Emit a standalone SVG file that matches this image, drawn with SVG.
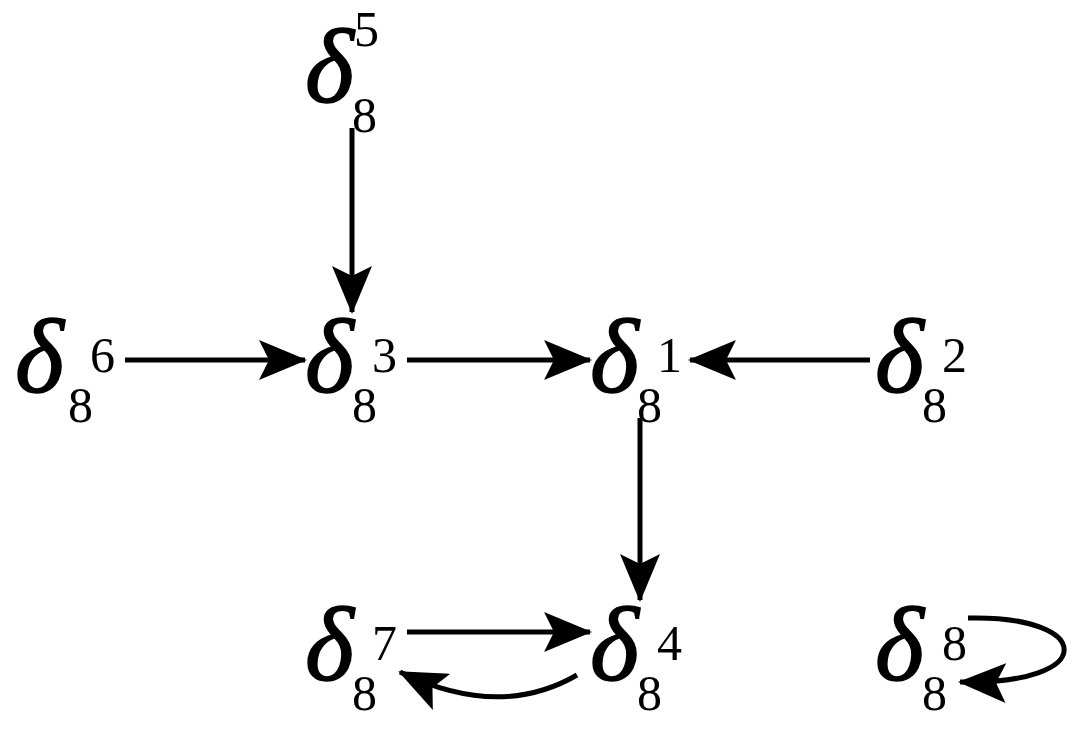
<svg xmlns="http://www.w3.org/2000/svg" width="1089" height="729" viewBox="0 0 1089 729">
<style>
.d{font-family:"Liberation Serif",serif;font-style:italic;font-size:105px;fill:#000;stroke:#000;stroke-width:1.5}
.s{font-family:"Liberation Serif",serif;font-size:50px;fill:#000}
.e{stroke:#000;stroke-width:5;fill:none}
</style>
<defs>
<marker id="h" viewBox="0 0 48 40" refX="46" refY="20" markerWidth="48" markerHeight="40" orient="auto" markerUnits="userSpaceOnUse">
<path d="M0,0 L48,20 L0,40 L10,20 Z" fill="#000"/>
</marker>
</defs>
<rect width="1089" height="729" fill="#fff"/>
<g id="n5"><text class="d" x="305" y="102">δ</text><text class="s" x="354" y="46">5</text><text class="s" x="352" y="132">8</text></g>
<g id="n6"><text class="d" x="15" y="392">δ</text><text class="s" x="90" y="372">6</text><text class="s" x="68" y="422">8</text></g>
<g id="n3"><text class="d" x="305" y="392">δ</text><text class="s" x="372" y="372">3</text><text class="s" x="352" y="422">8</text></g>
<g id="n1"><text class="d" x="590" y="392">δ</text><text class="s" x="657" y="372">1</text><text class="s" x="637" y="422">8</text></g>
<g id="n2"><text class="d" x="875" y="392">δ</text><text class="s" x="942" y="372">2</text><text class="s" x="922" y="422">8</text></g>
<g id="n7"><text class="d" x="305" y="680">δ</text><text class="s" x="372" y="660">7</text><text class="s" x="352" y="710">8</text></g>
<g id="n4"><text class="d" x="590" y="680">δ</text><text class="s" x="657" y="660">4</text><text class="s" x="637" y="710">8</text></g>
<g id="n8"><text class="d" x="875" y="680">δ</text><text class="s" x="942" y="660">8</text><text class="s" x="922" y="710">8</text></g>
<g id="edges">
<path class="e" d="M352,128 V312" marker-end="url(#h)"/>
<path class="e" d="M125,360 H305" marker-end="url(#h)"/>
<path class="e" d="M407,360 H590" marker-end="url(#h)"/>
<path class="e" d="M870,360 H690" marker-end="url(#h)"/>
<path class="e" d="M640,418 V600" marker-end="url(#h)"/>
<path class="e" d="M407,632 H590" marker-end="url(#h)"/>
<path class="e" d="M577,675 Q500,720 400,672" marker-end="url(#h)"/>
<path class="e" d="M968,618 C1095,615 1100,685 960,682" marker-end="url(#h)"/>
</g>
</svg>
